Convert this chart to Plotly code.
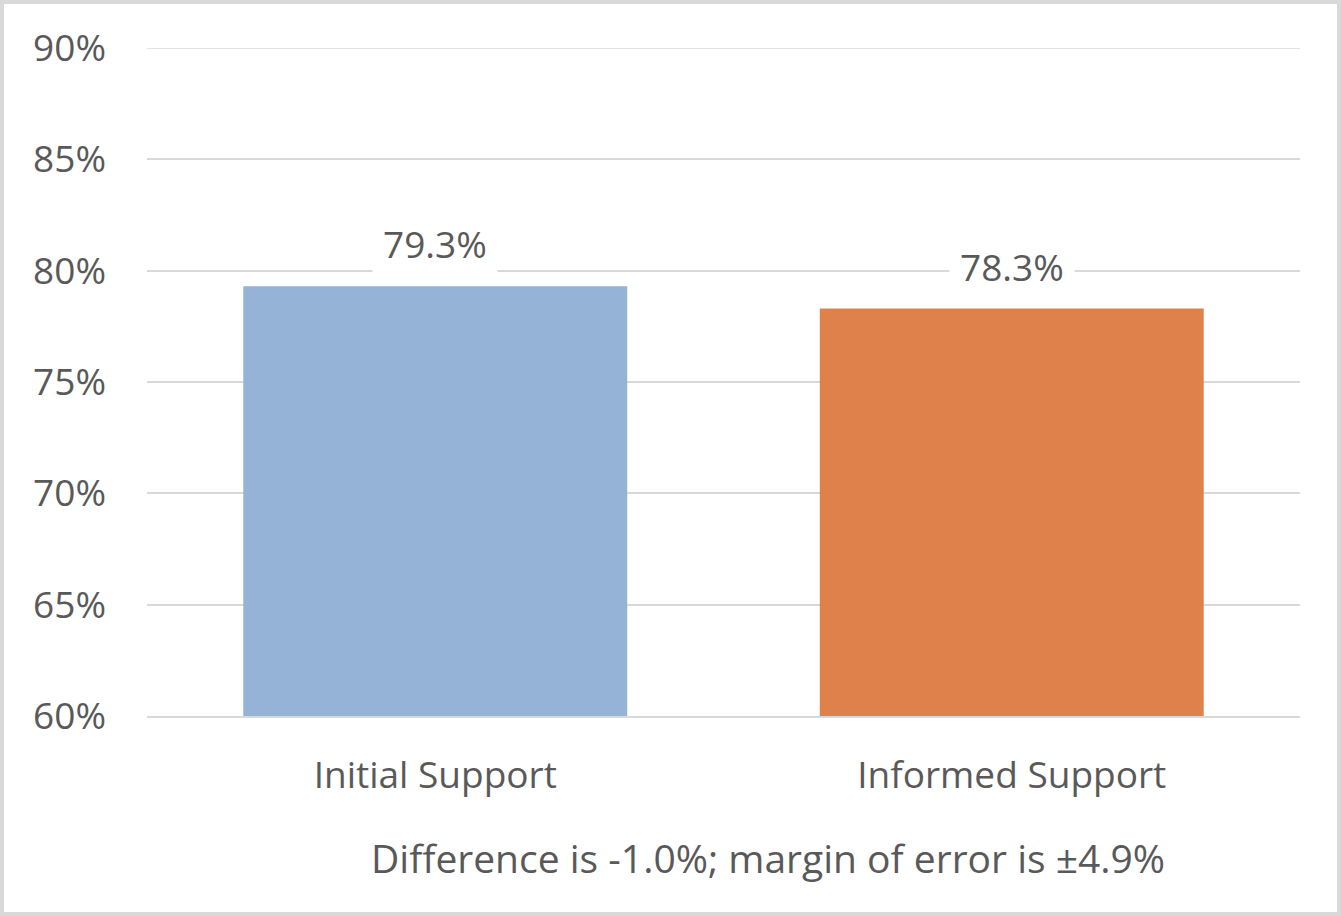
import plotly.graph_objects as go

# Support before and after information
categories = ["Initial Support", "Informed Support"]
support = [79.3, 78.3]
bar_colors = ["#95B3D6", "#DE814A"]
y_ticks = [60, 65, 70, 75, 80, 85, 90]
footnote = "Difference is -1.0%; margin of error is ±4.9%"

text_color = "#595959"
grid_color = "#D9D9D9"
font_family = "Open Sans, Noto Sans, sans-serif"

fig = go.Figure()

fig.add_trace(go.Bar(
    x=categories, y=support,
    marker=dict(color=bar_colors, line=dict(width=0)),
    width=0.666,
    hoverinfo="x+y",
))

# Top gridline (plotly skips gridlines sitting on the plot edge)
fig.add_hline(y=y_ticks[-1], line=dict(color=grid_color, width=1.5), layer="below")

# Value labels with white boxes that cut the gridlines (Excel style)
for cat, val in zip(categories, support):
    fig.add_annotation(
        x=cat, y=val, text=f"{val:.1f}%",
        showarrow=False, yanchor="bottom", yshift=6,
        bgcolor="white", borderpad=10,
        font=dict(size=37, color=text_color, family=font_family),
    )

fig.add_annotation(
    xref="paper", yref="paper", x=(768 - 147) / 1153, y=-(857 - 716) / 668,
    text=footnote, showarrow=False, xanchor="center", yanchor="middle",
    font=dict(size=39, color=text_color, family=font_family),
)

# Light grey frame round the whole chart
fig.add_shape(
    type="rect", xref="paper", yref="paper",
    x0=-(147 - 2) / 1153, x1=(1339 - 147) / 1153,
    y0=-(914 - 716) / 668, y1=(716 - 2) / 668,
    line=dict(color=grid_color, width=4), fillcolor="rgba(0,0,0,0)",
)

fig.update_layout(
    width=1341, height=916,
    margin=dict(l=147, r=41, t=48, b=200),
    paper_bgcolor="white", plot_bgcolor="white",
    showlegend=False,
    font=dict(family=font_family, color=text_color, size=37),
    xaxis=dict(
        showgrid=False, showline=True, linecolor=grid_color, linewidth=1.5,
        ticks="", ticklabelstandoff=26,
        tickfont=dict(size=37, color=text_color),
    ),
    yaxis=dict(
        range=[60, 90], tickvals=y_ticks, ticktext=[f"{t}%" for t in y_ticks],
        showgrid=True, gridcolor=grid_color, gridwidth=1.5,
        zeroline=False, showline=False, ticks="", ticklabelstandoff=40,
        tickfont=dict(size=37, color=text_color),
    ),
)

fig.write_html("out.html", config={"displayModeBar": False},
               post_script="document.body.style.margin='0';")
